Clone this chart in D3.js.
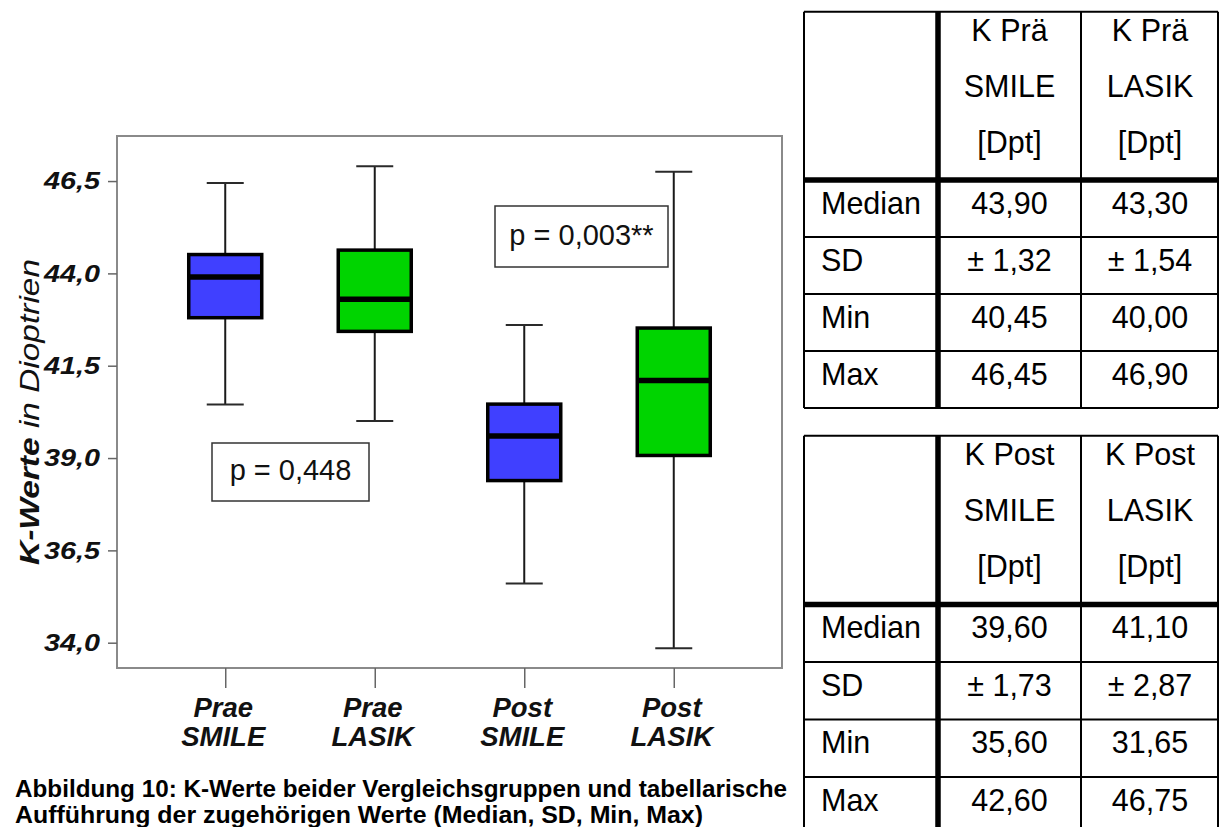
<!DOCTYPE html>
<html>
<head>
<meta charset="utf-8">
<script src="https://cdn.jsdelivr.net/npm/d3@7"></script>
<style>
  html, body { margin: 0; padding: 0; background: #fff; }
  svg { display: block; font-family: "Liberation Sans", Arial, Helvetica, sans-serif; }
</style>
</head>
<body>
<svg id="fig" width="1219" height="827"></svg>
<script>
// ---- data ----
const groups = ["Prae SMILE", "Prae LASIK", "Post SMILE", "Post LASIK"];
const tableHeads = [["K Prä", "SMILE", "[Dpt]"], ["K Prä", "LASIK", "[Dpt]"],
                    ["K Post", "SMILE", "[Dpt]"], ["K Post", "LASIK", "[Dpt]"]];
const medians = [43.90, 43.30, 39.60, 41.10];
const sds = [1.32, 1.54, 1.73, 2.87];
const mins = [40.45, 40.00, 35.60, 31.65];
const maxs = [46.45, 46.90, 42.60, 46.75];
const q1 = [42.80, 42.43, 38.39, 39.07];
const q3 = [44.51, 44.63, 40.46, 42.52];
const whiskerLow = [40.45, 40.00, 35.60, 33.85];
const whiskerHigh = [46.45, 46.90, 42.60, 46.75];
const yTicks = [34.0, 36.5, 39.0, 41.5, 44.0, 46.5];
const yTickLabels = ["34,0", "36,5", "39,0", "41,5", "44,0", "46,5"];
const rowLabels = ["Median", "SD", "Min", "Max"];
const pLabels = ["p = 0,448", "p = 0,003**"];
const captionLines = [
  "Abbildung 10: K-Werte beider Vergleichsgruppen und tabellarische",
  "Aufführung der zugehörigen Werte (Median, SD, Min, Max)"
];

// ---- layout ----
const svg = d3.select("#fig");
svg.append("rect").attr("width", 1219).attr("height", 827).attr("fill", "#fff");

const frame = { x0: 117, x1: 782, y0: 136, y1: 668 };
const x = d3.scalePoint().domain(groups).range([frame.x0, frame.x1]).padding(0.724);
const y = d3.scaleLinear().domain([33.315, 47.72]).range([frame.y1, frame.y0]);
const fills = ["#4040ff", "#00d400", "#4040ff", "#00d400"];
const boxW = 73, capW = 37;

// plot frame
svg.append("rect")
  .attr("x", frame.x0).attr("y", frame.y0)
  .attr("width", frame.x1 - frame.x0).attr("height", frame.y1 - frame.y0)
  .attr("fill", "none").attr("stroke", "#8a8a8a").attr("stroke-width", 2);

// y axis
const yAxis = svg.append("g")
  .attr("transform", `translate(${frame.x0},0)`)
  .call(d3.axisLeft(y).tickValues(yTicks)
    .tickFormat((d, i) => yTickLabels[i]).tickSize(9).tickPadding(8));
yAxis.select(".domain").remove();
yAxis.selectAll(".tick line").attr("stroke", "#666").attr("stroke-width", 1.5);
yAxis.selectAll(".tick text")
  .attr("fill", "#111")
  .style("font-size", "24px").style("font-weight", "bold").style("font-style", "italic")
  .style("font-family", "'Liberation Sans', Arial, sans-serif")
  .attr("textLength", 56).attr("lengthAdjust", "spacingAndGlyphs");

// x axis
const xAxis = svg.append("g")
  .attr("transform", `translate(0,${frame.y1})`)
  .call(d3.axisBottom(x).tickSize(20).tickFormat(""));
xAxis.select(".domain").remove();
xAxis.selectAll(".tick line").attr("stroke", "#666").attr("stroke-width", 1.5);

const xl = svg.append("g")
  .style("font-size", "27.5px").style("font-weight", "bold").style("font-style", "italic")
  .attr("fill", "#111").attr("text-anchor", "middle");
groups.forEach(g => {
  const parts = g.split(" ");
  const t = xl.append("text").attr("x", x(g) - 2);
  t.append("tspan").attr("x", x(g) - 2).attr("y", 717).text(parts[0]);
  t.append("tspan").attr("x", x(g) - 2).attr("y", 746).text(parts[1]);
});

// y title
const yt = svg.append("text")
  .attr("transform", "translate(39,412) rotate(-90)")
  .attr("text-anchor", "middle")
  .attr("fill", "#111")
  .style("font-size", "27px").style("font-style", "italic")
  .attr("textLength", 306).attr("lengthAdjust", "spacingAndGlyphs");
yt.append("tspan").style("font-weight", "bold").text("K-Werte");
yt.append("tspan").text(" in Dioptrien");

// box plots
const boxes = svg.append("g").selectAll("g").data(groups).join("g");
boxes.append("line")
  .attr("x1", d => x(d)).attr("x2", d => x(d))
  .attr("y1", (d, i) => y(whiskerLow[i])).attr("y2", (d, i) => y(whiskerHigh[i]))
  .attr("stroke", "#1a1a1a").attr("stroke-width", 2);
boxes.append("line")
  .attr("x1", d => x(d) - capW / 2).attr("x2", d => x(d) + capW / 2)
  .attr("y1", (d, i) => y(whiskerLow[i])).attr("y2", (d, i) => y(whiskerLow[i]))
  .attr("stroke", "#2a2a2a").attr("stroke-width", 2);
boxes.append("line")
  .attr("x1", d => x(d) - capW / 2).attr("x2", d => x(d) + capW / 2)
  .attr("y1", (d, i) => y(whiskerHigh[i])).attr("y2", (d, i) => y(whiskerHigh[i]))
  .attr("stroke", "#2a2a2a").attr("stroke-width", 2);
boxes.append("rect")
  .attr("x", d => x(d) - boxW / 2).attr("width", boxW)
  .attr("y", (d, i) => y(q3[i])).attr("height", (d, i) => y(q1[i]) - y(q3[i]))
  .attr("fill", (d, i) => fills[i]).attr("stroke", "#000").attr("stroke-width", 3.5);
boxes.append("line")
  .attr("x1", d => x(d) - boxW / 2).attr("x2", d => x(d) + boxW / 2)
  .attr("y1", (d, i) => y(medians[i])).attr("y2", (d, i) => y(medians[i]))
  .attr("stroke", "#000").attr("stroke-width", 5.5);

// p-value annotations
const pBoxes = [
  { cx: 290.5, cy: 472, w: 157, h: 58, base: 480 },
  { cx: 581.5, cy: 236.5, w: 173, h: 61, base: 245 }
];
pBoxes.forEach((b, i) => {
  svg.append("rect")
    .attr("x", b.cx - b.w / 2).attr("y", b.cy - b.h / 2)
    .attr("width", b.w).attr("height", b.h)
    .attr("fill", "#fff").attr("stroke", "#333").attr("stroke-width", 1.5);
  svg.append("text")
    .attr("x", b.cx).attr("y", b.base)
    .attr("text-anchor", "middle").attr("fill", "#111")
    .style("font-size", "29px")
    .text(pLabels[i]);
});

// caption
captionLines.forEach((line, i) => {
  svg.append("text")
    .attr("x", 15).attr("y", i === 0 ? 797 : 823)
    .attr("fill", "#000")
    .style("font-size", "24px").style("font-weight", "bold")
    .attr("textLength", i === 0 ? 772 : 688).attr("lengthAdjust", "spacingAndGlyphs")
    .text(line);
});

// ---- tables ----
const fmt = v => d3.format(".2f")(v).replace(".", ",");
const colX = [804, 938, 1081, 1218];
const colCenter = [1009.5, 1150];
const tables = [
  { top: 11.7, thick: 180, row: 57, cols: [0, 1] },
  { top: 435.7, thick: 604.5, row: 57.5, cols: [2, 3] }
];
tables.forEach(tb => {
  const g = svg.append("g");
  const bottom = tb.thick + tb.row * rowLabels.length;
  const hline = (yy, w) => g.append("line")
    .attr("x1", colX[0]).attr("x2", colX[3]).attr("y1", yy).attr("y2", yy)
    .attr("stroke", "#000").attr("stroke-width", w);
  const vline = (xx, w) => g.append("line")
    .attr("x1", xx).attr("x2", xx).attr("y1", tb.top).attr("y2", bottom)
    .attr("stroke", "#000").attr("stroke-width", w);
  hline(tb.top, 2);
  rowLabels.forEach((r, k) => hline(tb.thick + tb.row * (k + 1), 2));
  vline(colX[0], 2);
  vline(colX[2], 2);
  vline(colX[3], 2);
  vline(colX[1], 5.5);
  hline(tb.thick, 5.5);

  const txt = g.append("g").attr("fill", "#000").style("font-size", "30.5px");
  tb.cols.forEach((ci, j) => {
    tableHeads[ci].forEach((h, li) => {
      txt.append("text").attr("x", colCenter[j]).attr("y", tb.top + 29 + 56 * li)
        .attr("text-anchor", "middle").text(h);
    });
    const vals = [fmt(medians[ci]), "± " + fmt(sds[ci]), fmt(mins[ci]), fmt(maxs[ci])];
    vals.forEach((v, k) => {
      txt.append("text").attr("x", colCenter[j]).attr("y", tb.thick + 33.5 + tb.row * k)
        .attr("text-anchor", "middle").text(v);
    });
  });
  rowLabels.forEach((r, k) => {
    txt.append("text").attr("x", 821).attr("y", tb.thick + 33.5 + tb.row * k).text(r);
  });
});
</script>
</body>
</html>
